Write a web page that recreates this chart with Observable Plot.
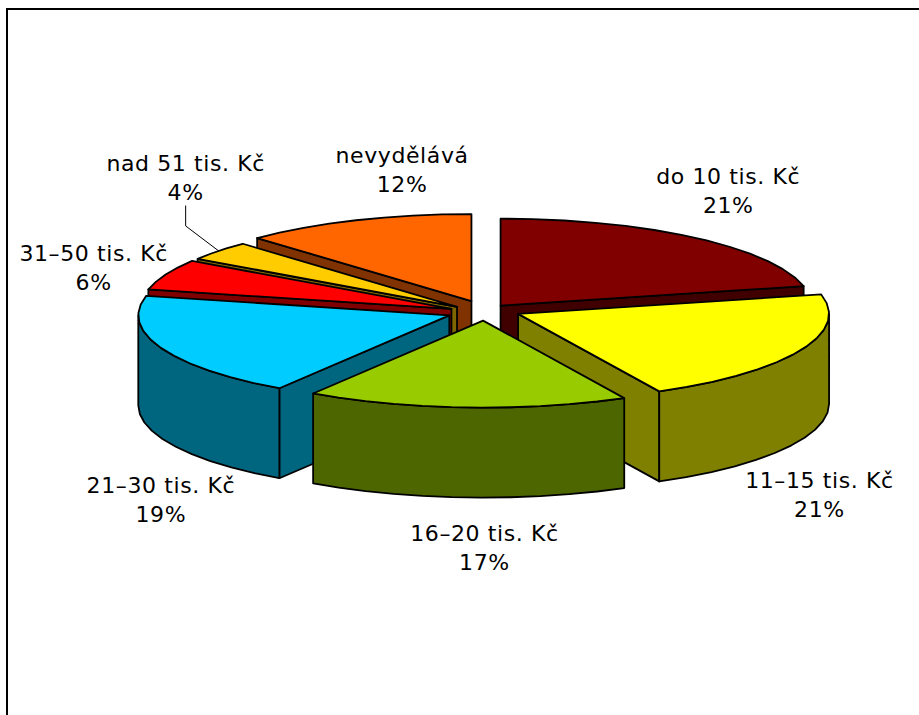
<!DOCTYPE html>
<html><head><meta charset="utf-8">
<style>html,body{margin:0;padding:0;background:#fff;overflow:hidden}svg{display:block}</style>
<script src="https://cdn.jsdelivr.net/npm/d3@7"></script>
<script src="https://cdn.jsdelivr.net/npm/@observablehq/plot@0.6"></script>
</head><body><div id="chart"></div>
<script>
const categories = ["do 10 tis. Kč","11–15 tis. Kč","16–20 tis. Kč","21–30 tis. Kč","31–50 tis. Kč","nad 51 tis. Kč","nevydělává"];
const shares = [21.4,21.1,16.7,19.4,5.7,3.6,12.1];
const topColors = ["#800000","#FFFF00","#99CC00","#00CCFF","#FF0000","#FFCC00","#FF6600"];
const sideColors = ["#400000","#808000","#4D6600","#006680","#800000","#806600","#803300"];
const paintOrder = [6,5,4,0,3,1,2];

// layout of the 3-D pie
const W = 919, H = 715;
const cx = 484.5, cy = 311.7, rx = 311, ry = 87, depth = 90;
const explodeX = [25,36.5,36.5,38.5,36.5,36.5,36.5];
const explodeY = [8.4,4,8.4,8.4,8.4,8.4,12];
const labelNudge = [[34,-48],[19.5,143],[18,139],[0,150],[-72,-8],[-33,-75],[46,-52]];

const total = d3.sum(shares);
let acc = 0;
const slices = shares.map((v,i)=>{
  const t0 = acc/total*2*Math.PI; acc += v; const t1 = acc/total*2*Math.PI;
  const m = (t0+t1)/2;
  const ax = cx+explodeX[i]*Math.sin(m), ay = cy-explodeY[i]*Math.cos(m);
  return {i,t0,t1,m,ax,ay};
});
const rim = (s,t,z=0)=>({x:s.ax+rx*Math.sin(t), y:s.ay-ry*Math.cos(t)+z});
const arc = (s,a,b,z=0)=>{
  const n = Math.max(2,Math.ceil((b-a)/(Math.PI/30)));
  return d3.range(n+1).map(k=>rim(s,a+(b-a)*k/n,z));
};
const face = (pts,fill)=>Plot.line(pts,{x:"x",y:"y",fill,stroke:"#000",strokeWidth:1.8,strokeLinejoin:"round",curve:"linear-closed"});

const marks = [];
for (const i of paintOrder){
  const s = slices[i];
  const apex = {x:s.ax,y:s.ay}, apexLow = {x:s.ax,y:s.ay+depth};
  if (Math.sin(s.t0)<-1e-6) marks.push(face([apex,rim(s,s.t0),rim(s,s.t0,depth),apexLow],sideColors[i]));
  if (Math.sin(s.t1)>1e-6) marks.push(face([apex,rim(s,s.t1),rim(s,s.t1,depth),apexLow],sideColors[i]));
  const a = Math.max(s.t0,Math.PI/2), b = Math.min(s.t1,Math.PI*1.5);
  if (b>a) marks.push(face([...arc(s,a,b),...arc(s,a,b,depth).reverse()],sideColors[i]));
  marks.push(face([apex,...arc(s,s.t0,s.t1)],topColors[i]));
}
const labels = slices.map(s=>{
  const p = rim(s,s.m);
  return {x:p.x+labelNudge[s.i][0], y:p.y+labelNudge[s.i][1], text:`${categories[s.i]}\n${Math.round(shares[s.i])}%`};
});
const s6 = slices[5], p6 = rim(s6,s6.m), l6 = labels[5];
const leader = [{x:l6.x,y:l6.y+30},{x:l6.x,y:l6.y+50},p6];

const chart = Plot.plot({
  width:W,height:H,margin:0,
  x:{domain:[0,W],range:[0,W],axis:null},
  y:{domain:[0,H],range:[0,H],axis:null},
  style:{background:"#fff",letterSpacing:"0.6px"},
  marks:[
    Plot.ruleX([6.5],{y1:8,y2:H,stroke:"#000",strokeWidth:2}),
    Plot.ruleY([8.5],{x1:6,x2:W,stroke:"#000",strokeWidth:2}),
    ...marks,
    Plot.line(leader,{x:"x",y:"y",stroke:"#000",strokeWidth:1}),
    Plot.text(labels,{x:"x",y:"y",text:"text",fontSize:22,lineHeight:1.32,fontFamily:"DejaVu Sans",fill:"#000",textAnchor:"middle"})
  ]
});
document.getElementById("chart").append(chart);
</script></body></html>
